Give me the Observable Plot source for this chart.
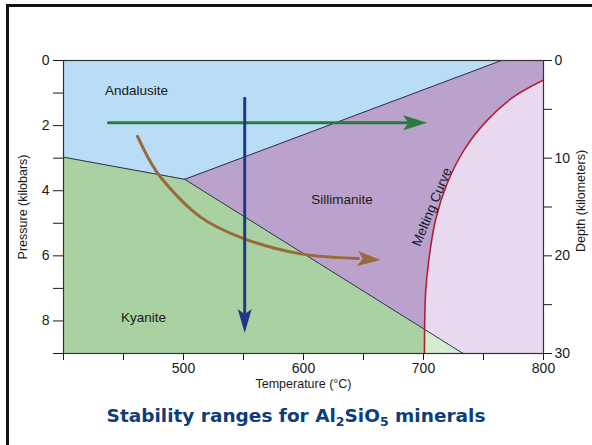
<!DOCTYPE html>
<html>
<head>
<meta charset="utf-8">
<script src="https://cdn.jsdelivr.net/npm/d3@7"></script>
<script src="https://cdn.jsdelivr.net/npm/@observablehq/plot@0.6"></script>
<style>
  html, body { margin: 0; padding: 0; background: white; }
  #wrap { position: relative; width: 592px; height: 445px; overflow: hidden; }
  #border { position: absolute; left: 6px; top: 4px; width: 600px; height: 460px;
            border-left: 3px solid #111; border-top: 3px solid #111; }
  #title { position: absolute; left: 0; top: 404px; width: 592px; text-align: center;
           font-family: "DejaVu Sans", sans-serif; font-weight: bold; font-size: 18.5px;
           color: #0d3d7a; line-height: 24px; }
  #title sub { font-size: 12.5px; vertical-align: -4px; line-height: 0; }
  #chart { position: absolute; left: 0; top: 0; }
</style>
</head>
<body>
<div id="wrap">
  <div id="chart"></div>
  <div id="border"></div>
  <div id="title">Stability ranges for Al<sub>2</sub>SiO<sub>5</sub> minerals</div>
</div>
<script>
// ---- data (temperature °C, pressure kbar) ----
const andalusiteBoundT = [400, 501, 765];     // And-Ky then And-Sil boundary
const andalusiteBoundP = [2.97, 3.65, 0];
const kyaniteBoundT = [400, 501, 733];        // And-Ky then Ky-Sil boundary
const kyaniteBoundP = [2.97, 3.65, 9];
const meltT = [700.8, 701.7, 704.4, 710, 719.7, 733.6, 753, 775, 800];
const meltP = [9, 7.15, 6.13, 4.9, 3.78, 2.76, 1.84, 1.12, 0.6];
const kyMeltT = [701, 733];
const kyMeltP = [8.26, 9];

const greenArrowT = [437.5, 687];
const greenArrowP = [1.91, 1.91];
const greenTip = [703, 1.91];
const blueArrowT = [551, 551];
const blueArrowP = [1.16, 7.75];
const blueTip = [551, 8.37];
const brownT = [461.7, 472.5, 480.8, 514.2, 547.5, 597.5, 645.8];
const brownP = [2.33, 3.12, 3.58, 4.81, 5.43, 5.94, 6.08];
const brownTip = [664.2, 6.13];

const labelNames = ["Andalusite", "Sillimanite", "Kyanite"];
const labelT = [460.8, 632, 466.7];
const labelP = [0.92, 4.29, 7.9];
const meltLabel = ["Melting Curve", 707, 4.5];

const tempTicks = [400, 450, 500, 550, 600, 650, 700, 750, 800];
const pressureTicks = [0, 1, 2, 3, 4, 5, 6, 7, 8, 9];
const depthTicks = [0, 5, 10, 15, 20, 25, 30];
const kmPerKbar = 30 / 9;

// ---- build tables ----
const zip = (xs, ys) => xs.map((x, i) => ({T: x, P: ys[i]}));
const andalusite = zip(andalusiteBoundT, andalusiteBoundP);
const kyanite = zip(kyaniteBoundT, kyaniteBoundP);
const melt = zip(meltT, meltP);
const kyMelt = zip(kyMeltT, kyMeltP);
const greenArrow = zip(greenArrowT, greenArrowP);
const blueArrow = zip(blueArrowT, blueArrowP);
const brownArrow = zip(brownT, brownP);
const labels = labelNames.map((n, i) => ({name: n, T: labelT[i], P: labelP[i]}));

function head(angleDeg, len, half) {
  const a = angleDeg * Math.PI / 180, c = Math.cos(a), s = Math.sin(a);
  const pts = [[0, 0], [-len, -half], [-len * 0.78, 0], [-len, half]];
  return {
    draw(ctx) {
      pts.forEach(([x, y], i) => {
        const X = x * c - y * s, Y = x * s + y * c;
        i ? ctx.lineTo(X, Y) : ctx.moveTo(X, Y);
      });
      ctx.closePath();
    }
  };
}

const colAnd = "#b9dcf7", colKy = "#a9d1a1", colSil = "#baa2cd", colMelt = "#e8d9ee", colKyMelt = "#d6ebd0";
const colLine = "#2b3550";
const green = "#2a7b3b", blue = "#1d3a87", brown = "#9b6a3b", red = "#b01e36";
const fontFamily = "'Liberation Sans', Arial, sans-serif";
const tickFont = 14;

const chart = Plot.plot({
  width: 592, height: 400,
  marginLeft: 63, marginRight: 49, marginTop: 60, marginBottom: 47,
  x: {domain: [400, 800]},
  y: {domain: [0, 9], reverse: true},
  style: {fontFamily, fontSize: "13px", color: "#1a1a1a", background: "transparent"},
  marks: [
    Plot.frame({fill: colSil, stroke: null}),
    Plot.areaY(andalusite, {x: "T", y1: 0, y2: "P", fill: colAnd}),
    Plot.areaY(kyanite, {x: "T", y1: "P", y2: 9, fill: colKy}),
    Plot.areaX(melt, {y: "P", x1: "T", x2: 800, fill: colMelt, curve: "catmull-rom"}),
    Plot.areaY(kyMelt, {x: "T", y1: "P", y2: 9, fill: colKyMelt}),
    Plot.line(andalusite, {x: "T", y: "P", stroke: colLine, strokeWidth: 1}),
    Plot.line(kyanite.slice(1), {x: "T", y: "P", stroke: colLine, strokeWidth: 1}),
    Plot.line(melt, {x: "T", y: "P", stroke: red, strokeWidth: 1.6, curve: "catmull-rom"}),
    Plot.line(greenArrow, {x: "T", y: "P", stroke: green, strokeWidth: 3}),
    Plot.dot([greenTip], {x: d => d[0], y: d => d[1], symbol: head(0, 24, 7.5), fill: green, stroke: null}),
    Plot.line(brownArrow, {x: "T", y: "P", stroke: brown, strokeWidth: 3, curve: "catmull-rom"}),
    Plot.dot([brownTip], {x: d => d[0], y: d => d[1], symbol: head(4, 23, 7.5), fill: brown, stroke: null}),
    Plot.line(blueArrow, {x: "T", y: "P", stroke: blue, strokeWidth: 3}),
    Plot.dot([blueTip], {x: d => d[0], y: d => d[1], symbol: head(90, 24, 7), fill: blue, stroke: null}),
    Plot.text(labels, {x: "T", y: "P", text: "name", fontSize: 13.5, fill: "#1a1a1a"}),
    Plot.text([meltLabel], {x: d => d[1], y: d => d[2], text: d => d[0], rotate: -67.5, fontSize: 13.5, fill: "#1a1a2a"}),
    Plot.frame({stroke: "#333", strokeWidth: 1.2}),
    Plot.axisX({ticks: tempTicks, tickFormat: d => (d % 100 === 0 && d > 400) ? d : "", tickSize: 7, tickPadding: 3, label: null, fontSize: tickFont}),
    Plot.axisY({ticks: pressureTicks, tickFormat: d => d % 2 === 0 ? d : "", tickSize: 10, tickPadding: 4, label: null, fontSize: tickFont}),
    Plot.axisY({anchor: "right", ticks: depthTicks.map(k => k / kmPerKbar),
      tickFormat: d => { const k = Math.round(d * kmPerKbar); return k % 10 === 0 ? k : ""; },
      tickSize: 8, tickPadding: 3, label: null, fontSize: tickFont}),
    Plot.text(["Pressure (kilobars)"], {frameAnchor: "left", textAnchor: "middle", dx: -41, rotate: -90, fontSize: 12.5, fill: "#1a1a1a"}),
    Plot.text(["Depth (kilometers)"], {frameAnchor: "right", textAnchor: "middle", dx: 37, dy: -6, rotate: -90, fontSize: 12.5, fill: "#1a1a1a"}),
    Plot.text(["Temperature (°C)"], {frameAnchor: "bottom", dy: 34, fontSize: 12.5, fill: "#1a1a1a"})
  ]
});
// make sure numeric tick labels use the larger size
chart.querySelectorAll("text").forEach(t => {
  if (/^\d+$/.test(t.textContent.trim())) {
    t.setAttribute("font-size", tickFont);
    t.style.fontSize = tickFont + "px";
    t.setAttribute("fill", "#1a1a1a");
  }
});
document.getElementById("chart").appendChild(chart);
</script>
</body>
</html>
